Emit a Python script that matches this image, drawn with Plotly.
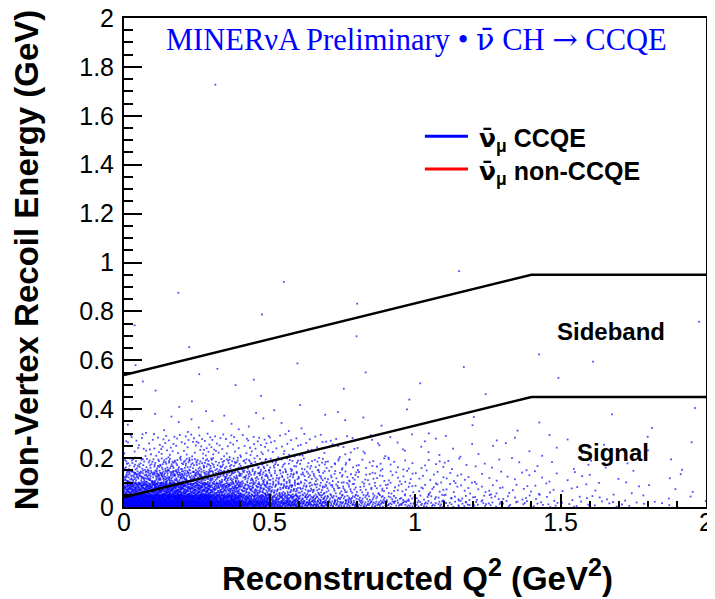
import plotly.graph_objects as go

# ---------------- data ----------------
# 2D event-count grid (rows = recoil-energy bins, columns = Q2 bins)
q2_edges = [0.0, 0.1, 0.2, 0.3, 0.4, 0.5, 0.6, 0.7, 0.8, 0.9, 1.0,
            1.1, 1.2, 1.3, 1.4, 1.5, 1.6, 1.7, 1.8, 1.9, 2.0]
recoil_edges = [0.0, 0.025, 0.05, 0.1, 0.15, 0.2, 0.3, 0.4, 0.6, 1.0, 2.0]
counts = [
    [330, 330, 280, 230, 160, 110, 75, 52, 40, 30, 23, 17, 13, 10, 8, 6, 5, 4, 3, 2],
    [230, 230, 190, 140, 95, 68, 45, 32, 22, 16, 12, 10, 8, 6, 4, 3, 3, 2, 1, 1],
    [200, 220, 180, 135, 95, 68, 48, 32, 23, 17, 13, 11, 9, 7, 5, 4, 3, 2, 2, 1],
    [90, 100, 90, 72, 55, 40, 30, 22, 15, 11, 9, 7, 5, 4, 4, 3, 2, 2, 1, 1],
    [36, 46, 46, 39, 32, 25, 20, 14, 11, 8, 6, 5, 4, 3, 2, 2, 2, 1, 1, 1],
    [20, 26, 28, 26, 23, 18, 15, 11, 8, 6, 5, 4, 3, 3, 3, 2, 1, 1, 1, 1],
    [3, 4, 4, 4, 3, 3, 2, 2, 2, 1, 1, 1, 1, 1, 1, 0, 1, 0, 1, 0],
    [2, 2, 2, 2, 2, 1, 1, 1, 1, 1, 1, 1, 1, 0, 1, 0, 1, 0, 0, 1],
    [1, 1, 1, 0, 1, 1, 0, 1, 1, 0, 0, 1, 0, 0, 1, 0, 0, 0, 0, 1],
    [0, 0, 0, 1, 0, 0, 0, 0, 0, 0, 0, 0, 0, 0, 0, 0, 0, 0, 0, 0],
]

# selection cut boundaries
cut_q2 = [0.0, 1.4, 2.0]
cut_lower = [0.04, 0.45, 0.45]
cut_upper = [0.54, 0.95, 0.95]

x_tick_vals = [0, 0.5, 1, 1.5, 2]
x_tick_text = ["0", "0.5", "1", "1.5", "2"]
y_tick_vals = [0, 0.2, 0.4, 0.6, 0.8, 1, 1.2, 1.4, 1.6, 1.8, 2]
y_tick_text = ["0", "0.2", "0.4", "0.6", "0.8", "1", "1.2", "1.4", "1.6", "1.8", "2"]

NUBAR_SERIF = '<span style="font-family:DejaVu Serif">ν̄</span>'
NUBAR_SANS = '<span style="font-family:DejaVu Sans">ν̄</span>'
ARROW = '<span style="font-family:DejaVu Serif">→</span>'
title_text = "MINERνA Preliminary • " + NUBAR_SERIF + " CH " + ARROW + " CCQE"
legend_names = [NUBAR_SANS + "<sub>μ</sub> CCQE", NUBAR_SANS + "<sub>μ</sub> non-CCQE"]
legend_colors = ["#0000ff", "#ff0000"]
region_labels = ["Sideband", "Signal"]
region_q2 = [1.674, 1.68]
region_recoil = [0.717, 0.221]
SUP2 = '<sup><span style="font-size:25px">2</span></sup>'
x_title = "<b>Reconstructed Q" + SUP2 + "\u00a0(GeV" + SUP2 + ")</b>"
y_title = "<b>Non-Vertex Recoil Energy (GeV)</b>"


# ---------- scatter drawing of the histogram (like ROOT "scat") ----------
def halton(i, b):
    f, r = 1.0, 0.0
    while i > 0:
        f /= b
        r += f * (i % b)
        i //= b
    return r


px, py = [], []
k = 0
for r, row in enumerate(counts):
    y0, y1 = recoil_edges[r], recoil_edges[r + 1]
    for c, n in enumerate(row):
        x0, x1 = q2_edges[c], q2_edges[c + 1]
        for _ in range(n):
            k += 1
            px.append(x0 + halton(k, 2) * (x1 - x0))
            py.append(y0 + halton(k, 3) * (y1 - y0))

SANS = "Liberation Sans, Arial, Helvetica, sans-serif"
SERIF = "Liberation Serif, Times New Roman, serif"

fig = go.Figure()
fig.add_trace(go.Scatter(
    x=px, y=py, mode="markers", showlegend=False, hoverinfo="skip",
    marker=dict(color="#0000ff", size=1.8, symbol="square", opacity=0.7,
                line=dict(width=0)),
))
for yy in (cut_lower, cut_upper):
    fig.add_trace(go.Scatter(x=cut_q2, y=yy, mode="lines", showlegend=False,
                             hoverinfo="skip", line=dict(color="black", width=2.5)))

# legend (ROOT-style, no frame): line samples + labels
leg_y = [0.758, 0.691]
for name, col, ly in zip(legend_names, legend_colors, leg_y):
    fig.add_shape(type="line", xref="paper", yref="paper", x0=0.517, x1=0.591,
                  y0=ly, y1=ly, line=dict(color=col, width=3))
    fig.add_annotation(x=0.607, y=ly - 0.007, xref="paper", yref="paper", xanchor="left",
                       yanchor="middle", text="<b>" + name + "</b>", showarrow=False,
                       font=dict(family=SANS, size=25, color="black"))

for txt, xx, yy in zip(region_labels, region_q2, region_recoil):
    fig.add_annotation(x=xx, y=yy, xref="x", yref="y", text="<b>" + txt + "</b>",
                       showarrow=False, xanchor="center", yanchor="middle",
                       font=dict(family=SANS, size=24, color="black"))

fig.add_annotation(x=0.503, y=0.957, xref="paper", yref="paper", text=title_text,
                   showarrow=False, xanchor="center", yanchor="middle",
                   font=dict(family=SERIF, size=30.5, color="#0000ff"))
fig.add_annotation(x=0.505, y=-0.139, xref="paper", yref="paper", text=x_title,
                   showarrow=False, xanchor="center", yanchor="middle",
                   font=dict(family=SANS, size=33, color="black"))
fig.add_annotation(x=-0.168, y=0.505, xref="paper", yref="paper", textangle=-90,
                   text=y_title, showarrow=False, xanchor="center", yanchor="middle",
                   font=dict(family=SANS, size=33, color="black"))

axis_common = dict(showgrid=False, zeroline=False, showline=True, linecolor="black",
                   linewidth=2, mirror=True, ticks="inside", tickcolor="black",
                   tickwidth=1.5, automargin=False, ticklabeloverflow="allow",
                   tickfont=dict(family=SANS, size=25, color="black"))
fig.update_xaxes(range=[0, 2], tickvals=x_tick_vals, ticktext=x_tick_text, ticklen=13,
                 ticklabelstandoff=-8,
                 minor=dict(dtick=0.1, ticklen=6, ticks="inside", tickcolor="black",
                            tickwidth=1.5), **axis_common)
fig.update_yaxes(range=[0, 2], tickvals=y_tick_vals, ticktext=y_tick_text, ticklen=18,
                 ticklabelstandoff=3,
                 minor=dict(dtick=0.05, ticklen=9, ticks="inside", tickcolor="black",
                            tickwidth=1.5), **axis_common)

# the page body has an 8 px margin, so the figure is drawn 8 px in from the corner
fig.update_layout(
    width=707, height=591,
    margin=dict(l=116, r=9, t=10, b=92),
    paper_bgcolor="white", plot_bgcolor="white",
    showlegend=False,
)

fig.write_html("out.html")
